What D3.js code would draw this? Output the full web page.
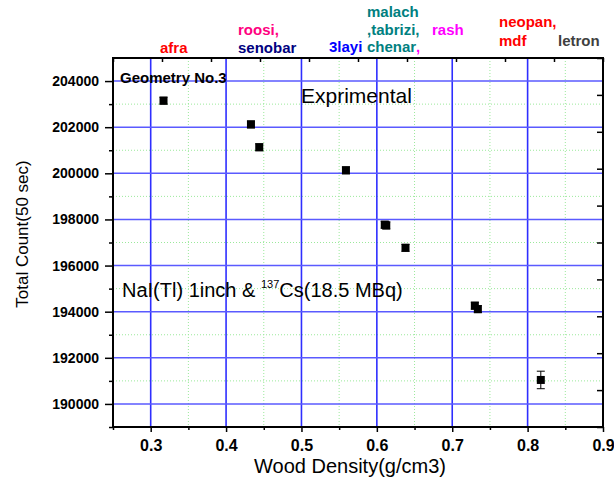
<!DOCTYPE html>
<html>
<head>
<meta charset="utf-8">
<script src="https://cdn.jsdelivr.net/npm/d3@7"></script>
<style>
  body { margin: 0; background: #fff; }
  text { font-family: "Liberation Sans", Arial, sans-serif; }
</style>
</head>
<body>
<svg id="chart" width="614" height="479"></svg>
<script>
var density = [0.317, 0.433, 0.444, 0.559, 0.6105, 0.6125, 0.638, 0.730, 0.734, 0.8175];
var counts = [203150, 202120, 201130, 200130, 197770, 197740, 196770, 194260, 194110, 191040];
var errors = [150, 150, 150, 150, 150, 150, 150, 150, 150, 380];

var xTicks = [0.3, 0.4, 0.5, 0.6, 0.7, 0.8, 0.9];
var xMinor = [0.25, 0.35, 0.45, 0.55, 0.65, 0.75, 0.85];
var yTicks = [190000, 192000, 194000, 196000, 198000, 200000, 202000, 204000];
var yMinor = [189000, 191000, 193000, 195000, 197000, 199000, 201000, 203000];

var woodNames = [
  {text: 'afra', color: '#ff0000', x: 160, y: 53},
  {text: 'roosi,', color: '#ff0080', x: 238, y: 35},
  {text: 'senobar', color: '#000080', x: 238, y: 53},
  {text: '3layi', color: '#0000ff', x: 329, y: 52},
  {text: 'malach', color: '#008080', x: 367, y: 17},
  {text: ',tabrizi,', color: '#008080', x: 367, y: 35},
  {text: 'chenar', color: '#008080', x: 367, y: 52},
  {text: 'rash', color: '#ff00ff', x: 432, y: 35},
  {text: 'neopan,', color: '#ff0000', x: 499, y: 27},
  {text: 'mdf', color: '#ff0000', x: 499, y: 46},
  {text: 'letron', color: '#404040', x: 558, y: 46}
];

(function() {
  var svg = d3.select('#chart');
  var plotLeft = 113, plotRight = 603, plotTop = 58, plotBottom = 427;

  var x = d3.scaleLinear().domain([0.25, 0.9]).range([plotLeft, plotRight]);
  var y = d3.scaleLinear().domain([189000, 205000]).range([plotBottom, plotTop]);
  var xTop = d3.scaleLinear().domain([0, 10]).range([plotLeft, plotRight]);
  var yRight = d3.scaleLinear().domain([0, 10]).range([plotBottom, plotTop]);

  // minor grid, green dots
  var grid = svg.append('g');
  grid.selectAll('.vminor').data(xMinor.slice(1)).enter().append('line')
    .attr('x1', function(d) { return x(d); }).attr('x2', function(d) { return x(d); })
    .attr('y1', plotTop).attr('y2', plotBottom)
    .attr('stroke', '#9be99b').attr('stroke-width', 1).attr('stroke-dasharray', '1,2');
  grid.selectAll('.hminor').data(yMinor.slice(1)).enter().append('line')
    .attr('x1', plotLeft).attr('x2', plotRight)
    .attr('y1', function(d) { return y(d); }).attr('y2', function(d) { return y(d); })
    .attr('stroke', '#9be99b').attr('stroke-width', 1).attr('stroke-dasharray', '1,2');

  // major grid, blue
  grid.selectAll('.vmajor').data(xTicks.slice(0, -1)).enter().append('line')
    .attr('x1', function(d) { return x(d); }).attr('x2', function(d) { return x(d); })
    .attr('y1', plotTop).attr('y2', plotBottom)
    .attr('stroke', '#2e2eff').attr('stroke-width', 1.6);
  grid.selectAll('.hmajor').data(yTicks).enter().append('line')
    .attr('x1', plotLeft).attr('x2', plotRight)
    .attr('y1', function(d) { return y(d); }).attr('y2', function(d) { return y(d); })
    .attr('stroke', '#5a5aff').attr('stroke-width', 1.6);

  // axes
  var bottomAxis = svg.append('g').attr('transform', 'translate(0,' + plotBottom + ')');
  bottomAxis.call(d3.axisBottom(x).tickValues(xTicks).tickSize(5).tickFormat(d3.format('.1f')));
  bottomAxis.append('g').call(d3.axisBottom(x).tickValues(xMinor).tickSize(3).tickFormat(''));
  bottomAxis.selectAll('text').attr('dy', '0').attr('y', 24)
    .style('font-size', '16px').style('font-weight', 'bold').attr('fill', '#000');

  var leftAxis = svg.append('g').attr('transform', 'translate(' + plotLeft + ',0)');
  leftAxis.call(d3.axisLeft(y).tickValues(yTicks).tickSize(8).tickFormat(d3.format('d')));
  leftAxis.append('g').call(d3.axisLeft(y).tickValues(yMinor).tickSize(4).tickFormat(''));
  leftAxis.selectAll('text').attr('x', -14)
    .style('font-size', '14px').style('font-weight', 'bold').attr('fill', '#000');

  svg.append('g').attr('transform', 'translate(0,' + plotTop + ')')
    .call(d3.axisBottom(xTop).ticks(10).tickSize(4).tickFormat(''));
  svg.append('g').attr('transform', 'translate(' + plotRight + ',0)')
    .call(d3.axisLeft(yRight).ticks(10).tickSize(6).tickFormat(''));

  svg.selectAll('.domain').remove();
  svg.selectAll('.tick line').attr('stroke', '#000').attr('stroke-width', 1.5);
  svg.selectAll('.tick text').attr('font-family', null);

  svg.append('rect')
    .attr('x', plotLeft).attr('y', plotTop)
    .attr('width', plotRight - plotLeft).attr('height', plotBottom - plotTop)
    .attr('fill', 'none').attr('stroke', '#000').attr('stroke-width', 2);

  // points with error bars
  var pts = svg.append('g').selectAll('g').data(density).enter().append('g');
  pts.append('line')
    .attr('x1', function(d) { return x(d); }).attr('x2', function(d) { return x(d); })
    .attr('y1', function(d, i) { return y(counts[i] - errors[i]); })
    .attr('y2', function(d, i) { return y(counts[i] + errors[i]); })
    .attr('stroke', '#000').attr('stroke-width', 1);
  [-1, 1].forEach(function(s) {
    pts.append('line')
      .attr('x1', function(d) { return x(d) - 4; }).attr('x2', function(d) { return x(d) + 4; })
      .attr('y1', function(d, i) { return y(counts[i] + s * errors[i]); })
      .attr('y2', function(d, i) { return y(counts[i] + s * errors[i]); })
      .attr('stroke', '#000').attr('stroke-width', 1);
  });
  pts.append('rect')
    .attr('x', function(d) { return x(d) - 4; })
    .attr('y', function(d, i) { return y(counts[i]) - 4; })
    .attr('width', 8).attr('height', 8).attr('fill', '#000');

  // wood names above the plot
  svg.append('g').selectAll('text').data(woodNames).enter().append('text')
    .attr('x', function(d) { return d.x; }).attr('y', function(d) { return d.y; })
    .attr('fill', function(d) { return d.color; })
    .style('font-size', '15px').style('font-weight', 'bold')
    .text(function(d) { return d.text; });
  svg.append('text').attr('x', 416).attr('y', 52).attr('fill', '#ff00ff')
    .style('font-size', '15px').style('font-weight', 'bold').text(',');

  // annotations
  svg.append('text').attr('x', 120).attr('y', 83)
    .style('font-size', '15px').style('font-weight', 'bold').text('Geometry No.3');
  svg.append('text').attr('x', 301).attr('y', 103)
    .style('font-size', '21px').text('Exprimental');

  var nai = svg.append('text').attr('x', 122).attr('y', 297)
    .style('font-size', '20px').style('white-space', 'pre');
  nai.append('tspan').text('NaI(Tl) 1inch & ');
  nai.append('tspan').attr('dy', -9).style('font-size', '11px').text('137');
  nai.append('tspan').attr('dy', 9).text('Cs(18.5 MBq)');

  // axis titles
  svg.append('text').attr('x', 350).attr('y', 473).attr('text-anchor', 'middle')
    .style('font-size', '20px').text('Wood Density(g/cm3)');
  svg.append('text').attr('transform', 'translate(28,234) rotate(-90)')
    .attr('text-anchor', 'middle').style('font-size', '17px').text('Total Count(50 sec)');
})();
</script>
</body>
</html>
